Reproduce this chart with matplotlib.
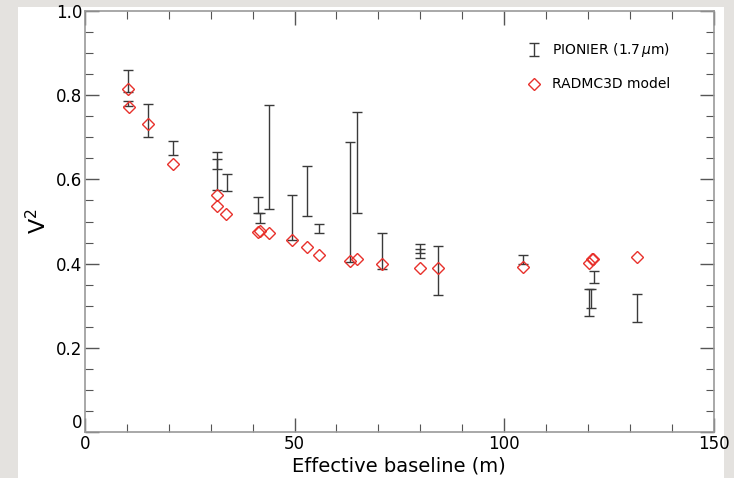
import matplotlib
matplotlib.use("Agg")
import matplotlib.pyplot as plt
from matplotlib.patches import Rectangle
from matplotlib.ticker import MultipleLocator

# PIONIER measurements (baseline, V^2, error)
pionier_b = [10.33, 10.38, 15.04, 21.07, 31.43, 31.50, 33.80, 41.36, 41.77, 43.91,
             49.33, 52.94, 55.85, 63.32, 64.99, 70.95, 80.02, 80.07, 84.32, 104.46,
             121.55, 120.29, 120.76, 131.67]
pionier_v2 = [0.834, 0.780, 0.740, 0.675, 0.621, 0.636, 0.593, 0.540, 0.509, 0.653,
              0.510, 0.572, 0.483, 0.546, 0.641, 0.430, 0.435, 0.424, 0.383, 0.409,
              0.368, 0.308, 0.317, 0.295]
pionier_err = [0.027, 0.006, 0.040, 0.016, 0.045, 0.012, 0.021, 0.019, 0.012, 0.123,
               0.053, 0.059, 0.011, 0.142, 0.120, 0.042, 0.011, 0.010, 0.058, 0.011,
               0.014, 0.032, 0.022, 0.033]

# RADMC3D model
model_b = [10.33, 10.43, 15.04, 20.93, 31.57, 31.43, 33.58, 41.22, 41.77, 43.91,
           49.33, 52.94, 55.80, 63.32, 64.99, 70.95, 80.07, 84.32, 104.46, 120.36,
           120.93, 121.31, 131.67]
model_v2 = [0.814, 0.773, 0.732, 0.636, 0.563, 0.537, 0.518, 0.474, 0.478, 0.473,
            0.456, 0.439, 0.421, 0.405, 0.410, 0.398, 0.389, 0.390, 0.391, 0.402,
            0.410, 0.411, 0.416]

fig = plt.figure(figsize=(7.34, 4.78), dpi=100, facecolor="#e4e2df")
bg = Rectangle((18 / 734, 0), (724 - 18) / 734, (478 - 7) / 478,
               transform=fig.transFigure, facecolor="white", edgecolor="none")
bg.set_zorder(-10)
fig.patches.append(bg)
ax = fig.add_axes([85 / 734, (478 - 432) / 478, (713.5 - 85) / 734, (432 - 11) / 478])
ax.set_zorder(1)
ax.set_facecolor("white")

eb = ax.errorbar(pionier_b, pionier_v2, yerr=pionier_err, fmt="none", ecolor="#3a3a3a",
                 elinewidth=1.0, capsize=3.5, capthick=1.0,
                 label="PIONIER (1.7$\\,\\mu$m)", zorder=2)
mk, = ax.plot(model_b, model_v2, linestyle="none", marker="D", markersize=6.3,
              markerfacecolor="none", markeredgecolor="#e8312c", markeredgewidth=1.0,
              label="RADMC3D model", zorder=3)

ax.set_xlim(0, 150)
ax.set_ylim(0, 1.0)
ax.xaxis.set_major_locator(MultipleLocator(50))
ax.xaxis.set_minor_locator(MultipleLocator(10))
ax.yaxis.set_minor_locator(MultipleLocator(0.05))
ax.set_yticks([0, 0.2, 0.4, 0.6, 0.8, 1.0])
ax.set_yticklabels(["0", "0.2", "0.4", "0.6", "0.8", "1.0"])
ax.tick_params(which="both", direction="in", top=True, right=True, color="#555555",
               labelsize=12, pad=2)
ax.tick_params(which="major", length=10, width=1)
ax.tick_params(which="minor", length=6, width=0.8)
ax.get_yticklabels()[0].set_va("bottom")
for s in ax.spines.values():
    s.set_color("#999999")
    s.set_linewidth(1.2)

ax.set_xlabel("Effective baseline (m)", fontsize=14, labelpad=3)
ax.set_ylabel("V$^2$", fontsize=16, labelpad=4)

leg = ax.legend([eb, mk], ["PIONIER (1.7$\\,\\mu$m)", "RADMC3D model"],
                loc="upper left", frameon=False, fontsize=10, handlelength=1.0,
                handletextpad=0.8, labelspacing=1.3, borderpad=0, borderaxespad=0,
                bbox_to_anchor=(0.703, 0.928))

fig.savefig("out.png", dpi=100, facecolor=fig.get_facecolor())
